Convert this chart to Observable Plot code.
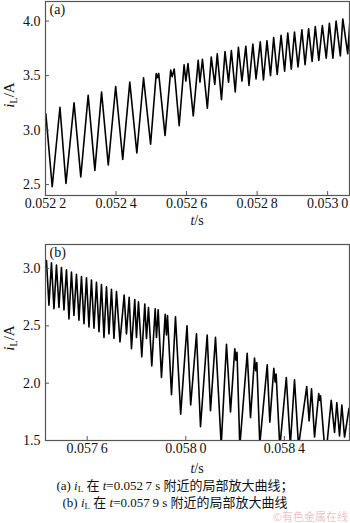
<!DOCTYPE html>
<html>
<head>
<meta charset="utf-8">
<script src="https://cdn.jsdelivr.net/npm/d3@7"></script>
<script src="https://cdn.jsdelivr.net/npm/@observablehq/plot@0.6"></script>
<style>
  html, body { margin: 0; padding: 0; background: #fff; }
  #wrap { position: relative; width: 350px; height: 523px; overflow: hidden; }
  #wrap svg { display: block; font-family: "Liberation Serif", "Times New Roman", serif; }
  #wrap svg text { font-family: "Liberation Serif", "Times New Roman", serif; }
  .cap { width: 350px; text-align: center; font-family: "Liberation Serif", "Noto Sans CJK SC", serif; font-size: 13px; line-height: 17px; color: #111; margin-top: 1px; }
  .wm { position: absolute; right: 2px; top: 510px; font-family: "Noto Sans CJK SC", sans-serif; font-size: 11px; line-height: 12px; color: rgba(225,110,110,0.45); }
</style>
</head>
<body>
<div id="wrap"></div>
<script>
// Panel (a): t (s) and iL (A), turning points
const aT = [0.052201, 0.052219, 0.052241, 0.052258, 0.052281, 0.052300, 0.052321, 0.052340, 0.052359, 0.052378,
  0.052399, 0.052419, 0.052439, 0.052459, 0.052478, 0.052498, 0.052514, 0.052517, 0.052521, 0.052539,
  0.052555, 0.052559, 0.052565, 0.052579, 0.052593, 0.052598, 0.052604, 0.052619, 0.052633, 0.052638,
  0.052645, 0.052659, 0.052670, 0.052680, 0.052687, 0.052699, 0.052709, 0.052719, 0.052727, 0.052738,
  0.052747, 0.052757, 0.052768, 0.052777, 0.052788, 0.052797, 0.052809, 0.052818, 0.052828, 0.052838,
  0.052847, 0.052857, 0.052868, 0.052878, 0.052887, 0.052897, 0.052906, 0.052916, 0.052927, 0.052936,
  0.052946, 0.052956, 0.052965, 0.052975, 0.052985, 0.052996, 0.053005, 0.053015, 0.053024, 0.053036,
  0.053043, 0.053057, 0.053064];
const aI = [3.15, 2.48, 3.21, 2.51, 3.25, 2.57, 3.32, 2.63, 3.35, 2.68,
  3.40, 2.73, 3.44, 2.79, 3.48, 2.87, 3.52, 3.48, 3.52, 2.95,
  3.55, 3.49, 3.56, 3.04, 3.60, 3.45, 3.61, 3.13, 3.64, 3.44,
  3.65, 3.20, 3.67, 3.42, 3.70, 3.28, 3.72, 3.44, 3.73, 3.35,
  3.76, 3.45, 3.77, 3.41, 3.79, 3.47, 3.81, 3.46, 3.82, 3.50,
  3.85, 3.51, 3.87, 3.54, 3.89, 3.56, 3.90, 3.58, 3.92, 3.60,
  3.93, 3.63, 3.95, 3.64, 3.96, 3.66, 3.98, 3.66, 4.00, 3.68,
  4.02, 3.70, 4.04];

// Panel (b)
const bT = [0.0574308, 0.0574349, 0.0574450, 0.0574552, 0.0574653, 0.0574755, 0.0574856, 0.0574957, 0.0575059, 0.0575160,
  0.0575262, 0.0575363, 0.0575464, 0.0575566, 0.0575667, 0.0575769, 0.0575870, 0.0575972, 0.0576073, 0.0576174,
  0.0576276, 0.0576377, 0.0576479, 0.0576580, 0.0576682, 0.0576783, 0.0576884, 0.0576986, 0.0577087, 0.0577189,
  0.0577331, 0.0577501, 0.0577594, 0.0577704, 0.0577797, 0.0577931, 0.0578000, 0.0578081, 0.0578215, 0.0578337,
  0.0578406, 0.0578487, 0.0578621, 0.0578759, 0.0578811, 0.0578880, 0.0579014, 0.0579164, 0.0579217, 0.0579258,
  0.0579420, 0.0579582, 0.0579793, 0.0580049, 0.0580199, 0.0580434, 0.0580597, 0.0580868, 0.0581002, 0.0581205,
  0.0581436, 0.0581651, 0.0581814, 0.0581988, 0.0582033, 0.0582077, 0.0582191, 0.0582491, 0.0582625, 0.0582787,
  0.0582836, 0.0582881, 0.0583002, 0.0583303, 0.0583408, 0.0583570, 0.0583623, 0.0583664, 0.0583814, 0.0584077,
  0.0584240, 0.0584410, 0.0584572, 0.0584905, 0.0585002, 0.0585100, 0.0585222, 0.0585392, 0.0585433, 0.0585465,
  0.0585668, 0.0585899, 0.0586033, 0.0586126, 0.0586236, 0.0586329, 0.0586439, 0.0586621];
const bI = [3.02, 3.07, 2.68, 3.05, 2.65, 3.03, 2.66, 3.01, 2.64, 2.99,
  2.56, 2.97, 2.59, 2.95, 2.55, 2.93, 2.52, 2.92, 2.49, 2.90,
  2.48, 2.88, 2.45, 2.86, 2.40, 2.84, 2.43, 2.82, 2.39, 2.80,
  2.36, 2.77, 2.43, 2.75, 2.30, 2.73, 2.40, 2.71, 2.23, 2.69,
  2.39, 2.66, 2.15, 2.65, 2.40, 2.64, 2.05, 2.60, 2.42, 2.59,
  1.90, 2.58, 1.73, 2.50, 1.81, 2.43, 1.62, 2.42, 1.76, 2.40,
  1.46, 2.34, 1.75, 2.30, 2.20, 2.27, 1.45, 2.26, 1.70, 2.22,
  2.11, 2.18, 1.47, 2.16, 1.66, 2.13, 2.01, 2.08, 1.44, 2.05,
  1.46, 2.03, 1.45, 1.97, 1.67, 1.95, 1.53, 1.91, 1.85, 1.89,
  1.34, 1.85, 1.57, 1.83, 1.54, 1.81, 1.53, 1.78];

const aXTicks = [0.0522, 0.0524, 0.0526, 0.0528, 0.0530];
const aYTicks = [2.5, 3.0, 3.5, 4.0];
const bXTicks = [0.0576, 0.0580, 0.0584];
const bYTicks = [1.5, 2.0, 2.5, 3.0];
const panelLabels = ["(a)", "(b)"];
const yLabel = ["i", "L", "/A"];
const xLabel = ["t", "/s"];
const captions = [
  ["(a) ", "i", "L", " 在 ", "t", "=0.052\u20097 s 附近的局部放大曲线；"],
  ["(b) ", "i", "L", " 在 ", "t", "=0.057\u20099 s 附近的局部放大曲线"]
];
const watermark = "©有色金属在线";

const FONT = "Liberation Serif, Times New Roman, serif";
const fmtX = d => { const s = d.toFixed(4); return s.slice(0, 5) + "\u2009" + s.slice(5); };
const fmtY = d => d.toFixed(1);

function panel(T, I, xDomain, yDomain, xt, yt, label, opts) {
  const data = T.map((t, i) => ({t, v: I[i]}));
  const svg = Plot.plot({
    width: 350,
    height: opts.height,
    marginLeft: 45,
    marginRight: 1,
    marginTop: opts.mt,
    marginBottom: opts.mb,
    style: {fontFamily: FONT, fontSize: "14px", color: "#111", background: "#fff"},
    x: {domain: xDomain, label: null},
    y: {domain: yDomain, label: null},
    marks: [
      Plot.line(data, {x: "t", y: "v", stroke: "#000", strokeWidth: 1.6, clip: true}),
      Plot.frame({stroke: "#555", strokeWidth: 1.2}),
      Plot.axisX(xt, {tickSize: -4, tickFormat: () => "", stroke: "#555"}),
      Plot.axisX(xt, {tickSize: 0, tickPadding: 3, tickFormat: fmtX, fontFamily: FONT, fontSize: 14}),
      Plot.axisY(yt, {tickSize: -4, tickFormat: () => "", stroke: "#555"}),
      Plot.axisY(yt, {tickSize: 0, tickPadding: 5, tickFormat: fmtY, fontFamily: FONT, fontSize: 14}),
      Plot.text([label], {frameAnchor: "top-left", dx: 4, dy: 3, textAnchor: "start", lineAnchor: "top", fontSize: 14, fontFamily: FONT})
    ]
  });
  const s = d3.select(svg);
  const yt0 = s.append("text")
    .attr("transform", `translate(${opts.ylx},${opts.yly}) rotate(-90)`)
    .attr("text-anchor", "middle")
    .attr("font-size", 15)
    .attr("fill", "#111");
  yt0.append("tspan").attr("font-style", "italic").text(yLabel[0]);
  yt0.append("tspan").attr("font-size", 10).attr("dy", 3).text(yLabel[1]);
  yt0.append("tspan").attr("dy", -3).text(yLabel[2]);
  const xt0 = s.append("text")
    .attr("x", 197).attr("y", opts.xly)
    .attr("text-anchor", "middle")
    .attr("font-size", 14)
    .attr("fill", "#111");
  xt0.append("tspan").attr("font-style", "italic").text(xLabel[0]);
  xt0.append("tspan").text(xLabel[1]);
  return svg;
}

const wrap = document.getElementById("wrap");
wrap.appendChild(panel(aT, aI, [0.0522, 0.053062], [2.4, 4.18], aXTicks, aYTicks, panelLabels[0],
  {height: 232, mt: 1, mb: 37, ylx: 14, yly: 95, xly: 225}));
wrap.appendChild(panel(bT, bI, [0.057431, 0.058664], [1.5, 3.21], bXTicks, bYTicks, panelLabels[1],
  {height: 244, mt: 12, mb: 36, ylx: 14, yly: 106, xly: 241}));

const cap = document.createElement("div");
cap.className = "cap";
captions.forEach(parts => {
  const line = document.createElement("div");
  parts.forEach((p, k) => {
    let el;
    if (k === 1 || k === 4) { el = document.createElement("i"); }
    else if (k === 2) { el = document.createElement("sub"); el.style.fontSize = "9px"; el.style.verticalAlign = "-2px"; el.style.lineHeight = "0"; }
    else { el = document.createElement("span"); }
    el.textContent = p;
    line.appendChild(el);
  });
  cap.appendChild(line);
});
wrap.appendChild(cap);

const wm = document.createElement("div");
wm.className = "wm";
wm.textContent = watermark;
wrap.appendChild(wm);
</script>
</body>
</html>
